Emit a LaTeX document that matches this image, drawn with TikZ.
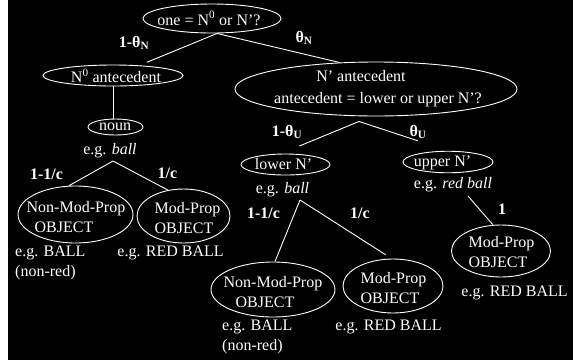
\documentclass[tikz,border=0pt]{standalone}
\usepackage{fontspec}
\setmainfont{Liberation Serif}
\usetikzlibrary{shapes.geometric,calc}

\begin{document}
\begin{tikzpicture}[x=1pt,y=-1pt,
  oval/.style 2 args={ellipse, draw=white, line width=0.9pt,
    minimum width=#1pt, minimum height=#2pt, inner sep=0pt},
  txt/.style={text=white, font=\fontsize{16}{20}\selectfont, inner sep=0pt},
  prob/.style={text=white, font=\fontsize{16}{20}\selectfont\bfseries, inner sep=0pt},
  branch/.style={draw=white, line width=0.9pt},
]
% backdrop
\fill[white] (0,0) rectangle (573,360);
\fill[black] (8,0) rectangle (573,360);
\useasboundingbox (0,0) rectangle (573,360);

% top question
\node[oval={138}{29}] (one) at (212,18.5) {};
\node[txt] (one-t) at ($(one)+(-3,0)$) {one = N\textsuperscript{0} or N’?};

% N0 branch
\node[oval={140}{21}] (n0) at (113,75.5) {};
\node[txt] (n0-t) at ($(n0)+(3,0.5)$) {N\textsuperscript{0} antecedent};
\node[oval={55}{16}] (noun) at (115.5,127) {};
\node[txt] (noun-t) at ($(noun)+(-0.5,0.3)$) {noun};
\node[txt] (noun-eg) at (110,151) {e.g. \textit{ball}};

\node[oval={115}{57}] (nmp1) at (75.5,214.5) {};
\node[txt, align=left] (nmp1-t) at ($(nmp1)+(0.5,3)$) {Non-Mod-Prop\\\hspace*{8pt}OBJECT};
\node[oval={93}{54}] (mp1) at (183.5,216) {};
\node[txt, align=left] (mp1-t) at ($(mp1)+(4,2)$) {Mod-Prop\\OBJECT};
\node[txt, align=left, anchor=west] (nmp1-eg) at (15,263) {e.g. BALL\\(non-red)};
\node[txt] (mp1-eg) at (170.5,253) {e.g. RED BALL};

% N' branch
\node[oval={282}{54}] (np) at (376,89) {};
\node[txt] (np-t1) at ($(np)+(-15,-13)$) {N’ antecedent};
\node[txt] (np-t2) at ($(np)+(2,11)$) {antecedent = lower or upper N’?};

\node[oval={89}{21}] (lowN) at (285.5,164.5) {};
\node[txt] (lowN-t) at ($(lowN)+(-2,-0.5)$) {lower N’};
\node[txt] (lowN-eg) at (282.5,190) {e.g. \textit{ball}};
\node[oval={90}{21.5}] (upN) at (448,162) {};
\node[txt] (upN-t) at ($(upN)+(-5.5,1.3)$) {upper N’};
\node[txt] (upN-eg) at (453,185) {e.g. \textit{red ball}};

\node[oval={124}{55}] (nmp2) at (273,289.5) {};
\node[txt, align=left] (nmp2-t) at ($(nmp2)+(0,3)$) {Non-Mod-Prop\\\hspace*{12pt}OBJECT};
\node[oval={100}{54}] (mp2) at (393,286) {};
\node[txt, align=left] (mp2-t) at ($(mp2)+(0.5,2)$) {Mod-Prop\\OBJECT};
\node[txt, align=left, anchor=west] (nmp2-eg) at (222,337) {e.g. BALL\\(non-red)};
\node[txt] (mp2-eg) at (388.5,327) {e.g. RED BALL};

\node[oval={99}{52}] (mp3) at (501,251) {};
\node[txt, align=left] (mp3-t) at ($(mp3)+(0.5,1)$) {Mod-Prop\\OBJECT};
\node[txt] (mp3-eg) at (514.5,293) {e.g. RED BALL};

% branch probabilities
\node[prob] (p1) at (134,43) {1-θ\textsubscript{N}};
\node[prob] (p2) at (304,38) {θ\textsubscript{N}};
\node[prob] (p3) at (46.5,174) {1-1/c};
\node[prob] (p4) at (167.5,173) {1/c};
\node[prob] (p5) at (287,132) {1-θ\textsubscript{U}};
\node[prob] (p6) at (418,132) {θ\textsubscript{U}};
\node[prob] (p7) at (263.5,213) {1-1/c};
\node[prob] (p8) at (360,213) {1/c};
\node[prob] (p9) at (502,209) {1};

% connectors
\coordinate (one-fork) at ($(one.south)+(5,0)$);
\draw[branch, shorten >=8pt] (one-fork) -- (n0.21);
\draw[branch] (one-fork) -- (np.144);
\draw[branch] (n0.south) -- (n0.south |- noun.north);
\coordinate (noun-fork) at ($(noun-eg)+(3,10)$);
\draw[branch] (noun-fork) -- (nmp1.103);
\draw[branch] (noun-fork) -- (mp1.121);
\coordinate (np-fork) at ($(np.south)+(-17,5)$);
\draw[branch, shorten >=20pt] (np-fork) -- (lowN.113);
\draw[branch, shorten >=32pt] (np-fork) -- (upN.89);
\coordinate (low-fork) at ($(lowN-eg)+(17.5,10)$);
\draw[branch] (low-fork) -- (nmp2.86);
\draw[branch, shorten >=7pt] (low-fork) -- (mp2.93);
\coordinate (up-fork) at ($(upN-eg)+(15,11)$);
\draw[branch] (up-fork) -- (mp3.107);
\end{tikzpicture}
\end{document}
